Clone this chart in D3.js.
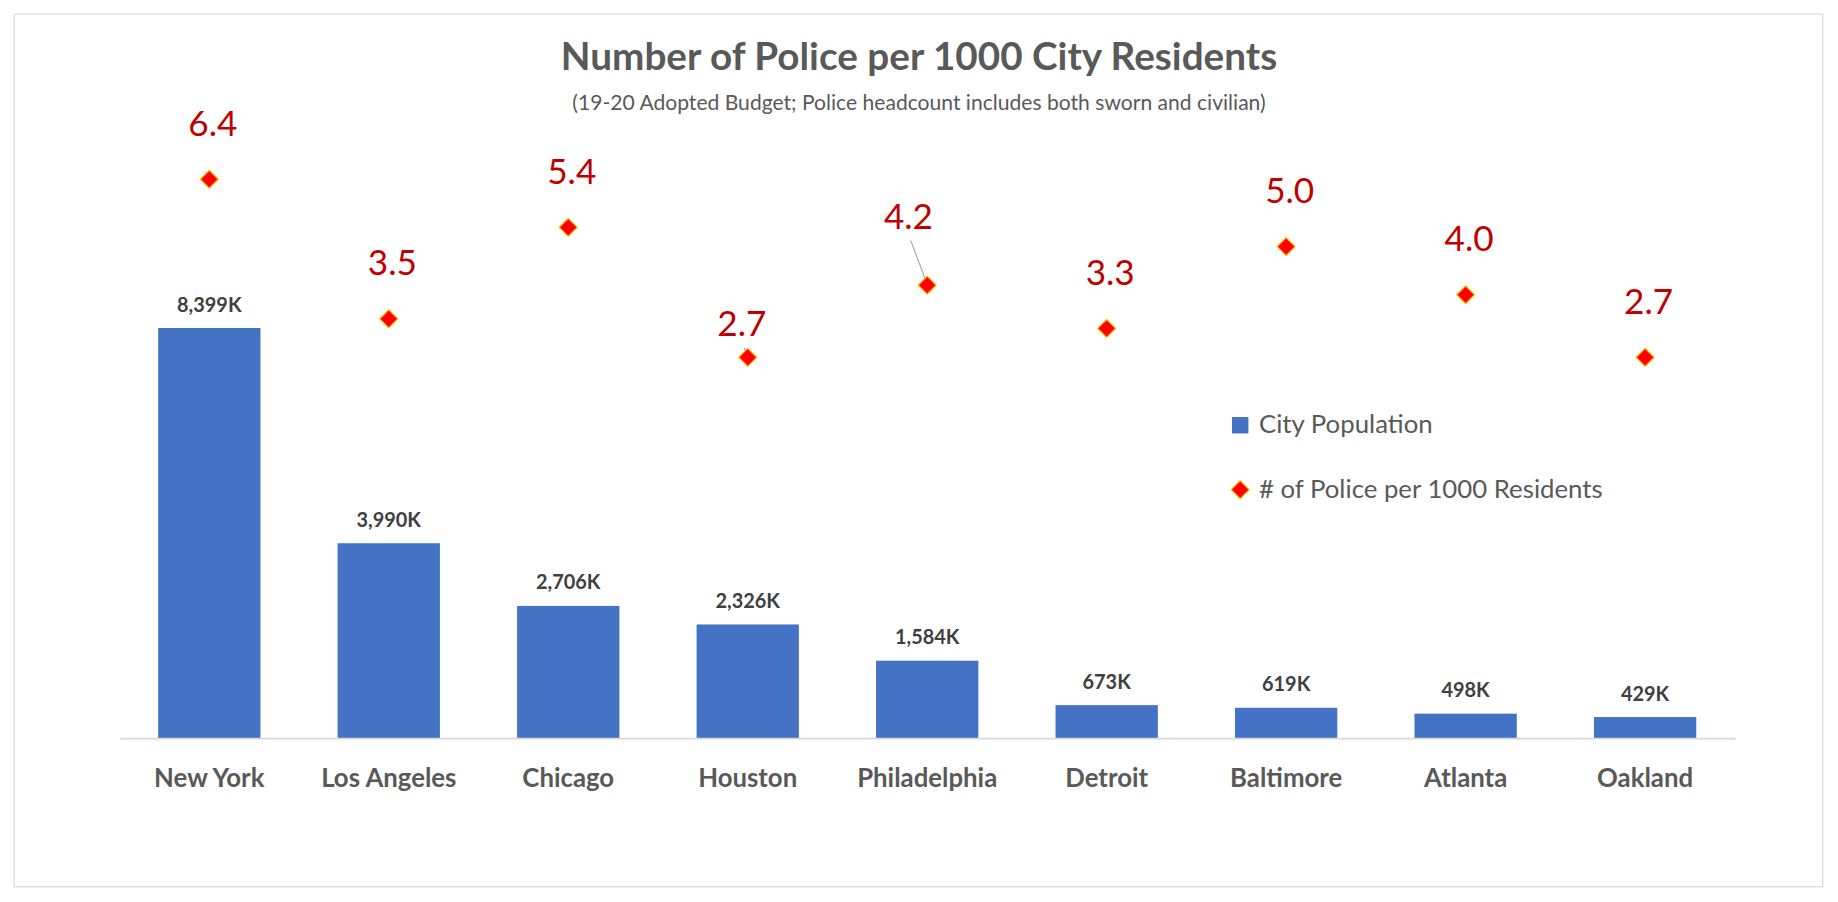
<!DOCTYPE html>
<html><head><meta charset="utf-8">
<script src="https://cdn.jsdelivr.net/npm/d3@7"></script>
<style>body{margin:0;background:#fff}svg{display:block;font-family:Lato,"Open Sans",sans-serif}</style>
</head><body><svg id="c" width="1838" height="902" viewBox="0 0 1568 770" preserveAspectRatio="none"></svg>
<script>
const cities = ['New York','Los Angeles','Chicago','Houston','Philadelphia','Detroit','Baltimore','Atlanta','Oakland']
const population = [8399, 3990, 2706, 2326, 1584, 673, 619, 498, 429]
const policePer1000 = [6.4, 3.5, 5.4, 2.7, 4.2, 3.3, 5.0, 4.0, 2.7]

const svg = d3.select('#c')
svg.append('rect').attr('x', 12).attr('y', 12).attr('width', 1543).attr('height', 745).attr('fill', '#fff').attr('stroke', '#d9d9d9')

const x = d3.scaleBand().domain(cities).range([102, 1480]).paddingInner(0.43).paddingOuter(0.215)
const y = d3.scaleLinear().domain([0, 8399]).range([630, 280])
const y2 = d3.scaleLinear().domain([0, 6.4]).range([416, 153])

svg.append('text').attr('x', 784).attr('y', 60).attr('text-anchor', 'middle').attr('font-size', 33).attr('font-weight', 700).attr('fill', '#595959').text('Number of Police per 1000 City Residents')
svg.append('text').attr('x', 784).attr('y', 94).attr('text-anchor', 'middle').attr('font-size', 18).attr('fill', '#595959').text('(19-20 Adopted Budget; Police headcount includes both sworn and civilian)')

svg.selectAll('rect.bar').data(population).join('rect').attr('class', 'bar')
  .attr('x', (d, i) => x(cities[i])).attr('width', x.bandwidth())
  .attr('y', d => y(d)).attr('height', d => y(0) - y(d)).attr('fill', '#4472c4')

svg.append('g').attr('transform', 'translate(0,630)').call(d3.axisBottom(x).tickSize(0).tickPadding(26))
  .call(g => g.select('.domain').attr('stroke', '#d9d9d9').attr('stroke-width', 1.5))
  .call(g => g.selectAll('text').attr('font-size', 22).attr('font-weight', 700).attr('fill', '#595959').attr('font-family', 'Lato,sans-serif'))

svg.selectAll('text.pop').data(population).join('text').attr('class', 'pop')
  .attr('x', (d, i) => x(cities[i]) + x.bandwidth() / 2).attr('y', d => y(d) - 14)
  .attr('text-anchor', 'middle').attr('font-size', 17).attr('font-weight', 700).attr('fill', '#404040')
  .text(d => d3.format(',')(d) + 'K')

const diamond = d3.symbol().type(d3.symbolDiamond2).size(150)
const cx = i => x(cities[i]) + x.bandwidth() / 2
svg.selectAll('path.pt').data(policePer1000).join('path').attr('class', 'pt')
  .attr('transform', (d, i) => `translate(${cx(i)},${y2(d)})`).attr('d', diamond)
  .attr('fill', '#ff0000').attr('stroke', '#ffc000').attr('stroke-width', 1)

// label nudges for the two labels with leader lines
const nudge = { 3: [-5, -18], 4: [-16, -48] }
policePer1000.forEach((d, i) => {
  const [dx, dy] = nudge[i] || [3, -37]
  const lx = cx(i) + dx, ly = y2(d) + dy
  if (nudge[i]) svg.append('line').attr('x1', lx + 2).attr('y1', ly + 10).attr('x2', cx(i) - 2).attr('y2', y2(d) - 6).attr('stroke', '#a6a6a6')
  svg.append('text').attr('x', lx).attr('y', ly).attr('text-anchor', 'middle').attr('font-size', 30).attr('fill', '#c00000').text(d3.format('.1f')(d))
})

const lg = svg.append('g')
lg.append('rect').attr('x', 1051).attr('y', 356).attr('width', 14).attr('height', 14).attr('fill', '#4472c4')
lg.append('text').attr('x', 1074).attr('y', 370).attr('font-size', 22).attr('fill', '#595959').text('City Population')
lg.append('path').attr('transform', 'translate(1058,418)').attr('d', diamond).attr('fill', '#ff0000').attr('stroke', '#ffc000')
lg.append('text').attr('x', 1074).attr('y', 425).attr('font-size', 22).attr('fill', '#595959').text('# of Police per 1000 Residents')
</script></body></html>
